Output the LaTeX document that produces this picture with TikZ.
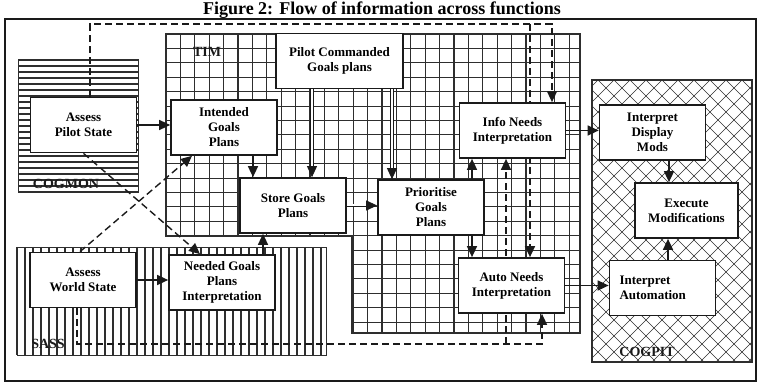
\documentclass[tikz,border=0pt]{standalone}
\usepackage{fontspec}
\setmainfont{Liberation Serif}
\usetikzlibrary{arrows.meta,calc}
\definecolor{ink}{HTML}{1A1A1A}
\definecolor{mesh}{HTML}{2E2E2E}
\pgfdeclarelayer{back}
\pgfdeclarelayer{wires}
\pgfsetlayers{back,wires,main}
\tikzset{
  fn/.style={rectangle, draw=ink, line width=1.7pt, fill=white, minimum width=106pt, minimum height=55pt, align=center, inner sep=1pt, font=\fontsize{13}{15}\selectfont\bfseries},
  arr/.style={-{Triangle[length=11pt,width=10pt]}, line width=1.5pt, draw=ink},
  darr/.style={arr, dash pattern=on 7pt off 4pt, line width=1.4pt},
  dbl/.style={arr, double=white, double distance=2pt, line width=0.9pt},
  zone/.style={font=\fontsize{14}{16}\selectfont\bfseries, inner sep=0pt, text=ink},
  hl/.style={line width=1.6pt, mesh},
  vl/.style={line width=1.3pt, mesh},
  gl/.style={line width=1.1pt, mesh},
  hg/.style={line width=0.9pt, mesh},
  xl/.style={line width=0.6pt, mesh},
}
\begin{document}
\begin{tikzpicture}[x=1pt, y=-1pt]
  \useasboundingbox (0,0) rectangle (760,387);
  \node[font=\fontsize{18}{20}\selectfont\bfseries, anchor=base, inner sep=0pt] (ttl) at (382,15) {Figure 2: Flow of information across functions};
  \node[fn] (ps) at (83.5,125) {Assess\\Pilot State};
  \node[fn] (ig) at (224,127.5) {Intended\\Goals\\Plans};
  \node[fn, minimum width=127pt] (pc) at (339.5,61) {Pilot Commanded\\Goals plans};
  \node[fn] (sg) at (293,205.5) {Store Goals\\Plans};
  \node[fn] (pg) at (431,207.5) {Prioritise\\Goals\\Plans};
  \node[fn] (in) at (512.5,130.5) {Info Needs\\Interpretation};
  \node[fn] (an) at (511.5,285.5) {Auto Needs\\Interpretation};
  \node[fn] (dm) at (652.5,132.5) {Interpret\\Display\\Mods};
  \node[fn, minimum width=103pt] (ex) at (686.5,210.5) {Execute\\Modifications};
  \node[fn, align=left, text width=86pt] (ia) at (662.5,288) {Interpret\\Automation};
  \node[fn] (ws) at (83,280) {Assess\\World State};
  \node[fn] (ng) at (222,282.5) {Needed Goals\\Plans\\Interpretation};
  \node[zone] (tim) at (207,52) {TIM};
  \node[zone] (cogmon) at (66,184) {COGMON};
  \node[zone] (sass) at (48,344) {SASS};
  \node[zone] (cogpit) at (647,352) {COGPIT};
  \coordinate (top) at (0,24);
  \coordinate (bot) at (0,344);
  \begin{pgfonlayer}{back}
    \draw[line width=1.8pt, ink] (5,19) rectangle (756,381);
    \foreach \yy in {60,66,...,192} \draw[hl] (18,\yy) -- (138,\yy);
    \draw[xl] (18,59) rectangle (138,192);
    \begin{scope}
      \clip (166,34) -- (580,34) -- (580,333) -- (352,333) -- (352,236) -- (166,236) -- cycle;
      \foreach \xx in {166,180.4,...,581} \draw[gl] (\xx,34) -- (\xx,333);
      \foreach \yy in {34,48.4,...,334} \draw[hg] (166,\yy) -- (580,\yy);
    \end{scope}
    \draw[gl] (166,34) -- (580,34) -- (580,333) -- (352,333) -- (352,236) -- (166,236) -- cycle;
    \foreach \xx in {17,25,...,326} \draw[vl] (\xx,247) -- (\xx,355);
    \draw[xl] (17,247) rectangle (326,355);
    \begin{scope}
      \clip (592,80) rectangle (752,362);
      \foreach \xx in {310,326,...,1040} {
        \draw[xl] (\xx,80) -- ++(282,282);
        \draw[xl] (\xx,80) -- ++(-282,282);}
    \end{scope}
    \draw[gl] (592,80) rectangle (752,362);
  \end{pgfonlayer}
  \begin{pgfonlayer}{wires}
    \draw[arr] (ps.east) -- (ps.east -| ig.west);
    \draw[arr] ([xshift=29pt]ig.south) -- ([xshift=29pt]ig.south |- sg.north);
    \draw[dbl] ([xshift=-27.5pt]pc.south) -- ([xshift=-27.5pt]pc.south |- sg.north);
    \draw[dbl] ([xshift=52.5pt]pc.south) -- ([xshift=52.5pt]pc.south |- pg.north);
    \draw[dbl] (sg.east) -- (sg.east -| pg.west);
    \draw[arr] ([xshift=41pt]ng.north) -- ([xshift=41pt]ng.north |- sg.south);
    \draw[arr] (ws.east) -- (ws.east -| ng.west);
    \draw[arr] ([xshift=41pt]pg.north) -- ([xshift=41pt]pg.north |- in.south);
    \draw[arr] ([xshift=41pt]pg.south) -- ([xshift=41pt]pg.south |- an.north);
    \draw[arr] (in.east) -- (in.east -| dm.west);
    \draw[arr] (an.east) -- (an.east -| ia.west);
    \draw[arr] ([xshift=16.5pt]dm.south) -- ([xshift=16.5pt]dm.south |- ex.north);
    \draw[arr] ([xshift=5.5pt]ia.north) -- ([xshift=5.5pt]ia.north |- ex.south);
    \draw[darr] ([xshift=6.5pt]ps.north) |- ([xshift=39.5pt]in.north |- top) -- ([xshift=39.5pt]in.north);
    \draw[darr] ([xshift=18.5pt]an.north |- top) -- ([xshift=18.5pt]an.north);
    \draw[darr] ([xshift=-6pt]ws.south) |- ([xshift=30.5pt]an.south |- bot) -- ([xshift=30.5pt]an.south);
    \draw[darr] ([xshift=-6.5pt]in.south |- bot) -- ([xshift=-6.5pt]in.south);
    \draw[darr] (ps.south) -- ([xshift=-22pt]ng.north);
    \draw[darr] ([xshift=-3pt]ws.north) -- ([xshift=-32pt]ig.south);
  \end{pgfonlayer}
\end{tikzpicture}
\end{document}
